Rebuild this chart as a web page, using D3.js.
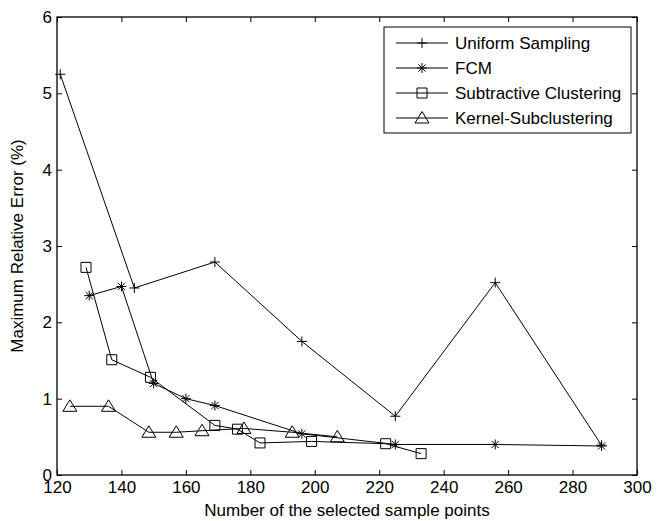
<!DOCTYPE html>
<html>
<head>
    <title>Maximum Relative Error</title>
    <script src="https://d3js.org/d3.v7.min.js"></script>
    <style>
        body { margin: 0; background: #fff; }
        text { font-family: "Liberation Sans", Arial, sans-serif; }
    </style>
</head>
<body>

<script>
// series
const uniformX = [121, 144, 169, 196, 225, 256, 289];
const uniformY = [5.25, 2.45, 2.79, 1.75, 0.77, 2.52, 0.39];

const fcmX = [130, 140, 150, 160, 169, 196, 225, 256, 289];
const fcmY = [2.35, 2.47, 1.20, 1.00, 0.91, 0.54, 0.40, 0.40, 0.38];

const subX = [129, 137, 149, 169, 176, 183, 199, 222, 233];
const subY = [2.72, 1.51, 1.28, 0.65, 0.60, 0.42, 0.44, 0.41, 0.28];

const kernelX = [124, 136, 148.5, 157, 165, 178, 193, 207];
const kernelY = [0.90, 0.90, 0.56, 0.56, 0.58, 0.61, 0.56, 0.50];

const seriesNames = ['Uniform Sampling', 'FCM', 'Subtractive Clustering', 'Kernel-Subclustering'];
const markerTypes = ['plus', 'star', 'square', 'triangle'];

const xTicks = [120, 140, 160, 180, 200, 220, 240, 260, 280, 300];
const yTicks = [0, 1, 2, 3, 4, 5, 6];

const series = [
    { name: seriesNames[0], marker: markerTypes[0], xs: uniformX, ys: uniformY },
    { name: seriesNames[1], marker: markerTypes[1], xs: fcmX, ys: fcmY },
    { name: seriesNames[2], marker: markerTypes[2], xs: subX, ys: subY },
    { name: seriesNames[3], marker: markerTypes[3], xs: kernelX, ys: kernelY }
];

const W = 666, H = 521;
const margin = { top: 17, right: 29, bottom: 46, left: 57 };
const width = W - margin.left - margin.right;
const height = H - margin.top - margin.bottom;
const fs = 17;

const svg = d3.select('body')
    .append('svg')
    .attr('width', W)
    .attr('height', H);

const g = svg.append('g')
    .attr('transform', `translate(${margin.left},${margin.top})`);

const x = d3.scaleLinear().domain([120, 300]).range([0, width]);
const y = d3.scaleLinear().domain([0, 6]).range([height, 0]);

// matlab style box with inward ticks on all four sides
const tick = 5;
const axisStyle = sel => {
    sel.select('.domain').remove();
    sel.selectAll('line').attr('stroke', '#000');
    sel.selectAll('text').attr('font-size', fs).attr('fill', '#000');
};

g.append('g')
    .attr('transform', `translate(0,${height})`)
    .call(d3.axisBottom(x).tickValues(xTicks).tickSizeInner(-tick).tickSizeOuter(0).tickPadding(6))
    .call(axisStyle);

g.append('g')
    .call(d3.axisTop(x).tickValues(xTicks).tickSizeInner(-tick).tickSizeOuter(0).tickFormat(''))
    .call(axisStyle);

g.append('g')
    .call(d3.axisLeft(y).tickValues(yTicks).tickSizeInner(-tick).tickSizeOuter(0).tickPadding(5).tickFormat(d3.format('d')))
    .call(axisStyle);

g.append('g')
    .attr('transform', `translate(${width},0)`)
    .call(d3.axisRight(y).tickValues(yTicks).tickSizeInner(-tick).tickSizeOuter(0).tickFormat(''))
    .call(axisStyle);

g.append('rect')
    .attr('width', width)
    .attr('height', height)
    .attr('fill', 'none')
    .attr('stroke', '#000')
    .attr('stroke-width', 1.3);

// marker shapes
function markerPath(type) {
    const s = 5;
    if (type === 'plus') return `M${-s},0H${s}M0,${-s}V${s}`;
    if (type === 'star') {
        const d = s * 0.72;
        return `M${-s},0H${s}M0,${-s}V${s}M${-d},${-d}L${d},${d}M${-d},${d}L${d},${-d}`;
    }
    if (type === 'square') return `M-5,-5H5V5H-5Z`;
    return `M0,-6.5L7,5L-7,5Z`;
}

const line = d3.line().x(d => x(d[0])).y(d => y(d[1]));

series.forEach(s => {
    const pts = s.xs.map((v, i) => [v, s.ys[i]]);
    g.append('path')
        .datum(pts)
        .attr('d', line)
        .attr('fill', 'none')
        .attr('stroke', '#000')
        .attr('stroke-width', 1);
    g.selectAll(null)
        .data(pts)
        .enter()
        .append('path')
        .attr('transform', d => `translate(${x(d[0])},${y(d[1])})`)
        .attr('d', markerPath(s.marker))
        .attr('fill', 'none')
        .attr('stroke', '#000')
        .attr('stroke-width', 1);
});

// legend
const lg = svg.append('g').attr('transform', 'translate(384,27)');
lg.append('rect')
    .attr('width', 247)
    .attr('height', 106)
    .attr('fill', '#fff')
    .attr('stroke', '#000')
    .attr('stroke-width', 1);

series.forEach((s, i) => {
    const row = lg.append('g').attr('transform', `translate(0,${16 + i * 25})`);
    row.append('line')
        .attr('x1', 12).attr('x2', 64)
        .attr('stroke', '#000');
    row.append('path')
        .attr('transform', 'translate(38,0)')
        .attr('d', markerPath(s.marker))
        .attr('fill', 'none')
        .attr('stroke', '#000');
    row.append('text')
        .attr('x', 71)
        .attr('dy', '0.35em')
        .attr('font-size', fs)
        .text(s.name);
});

// axis titles
svg.append('text')
    .attr('x', margin.left + width / 2)
    .attr('y', 516)
    .attr('text-anchor', 'middle')
    .attr('font-size', fs)
    .text('Number of the selected sample points');

svg.append('text')
    .attr('transform', `translate(23,${margin.top + height / 2}) rotate(-90)`)
    .attr('text-anchor', 'middle')
    .attr('font-size', fs)
    .text('Maximum Relative Error (%)');
</script>

</body>
</html>
